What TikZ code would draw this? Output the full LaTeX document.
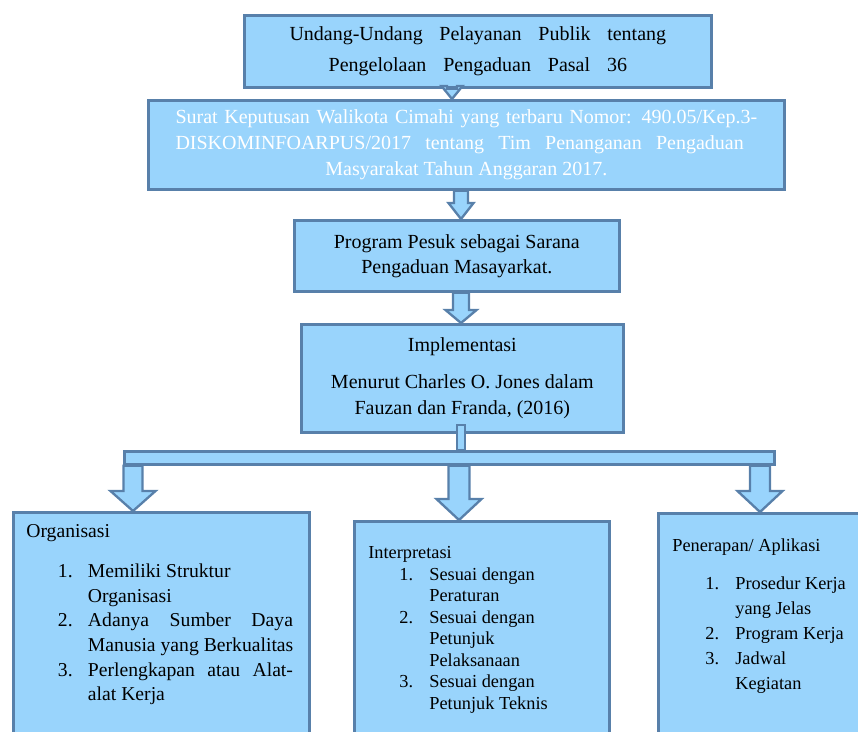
\documentclass[tikz,border=0pt]{standalone}
\usepackage{fontspec}
\setmainfont{Liberation Serif}
\usetikzlibrary{calc}

\definecolor{boxfill}{HTML}{99D4FC}
\definecolor{boxline}{HTML}{5880AA}

% block arrow: start, tip, shaft half width, head half width, head length
\newcommand{\blockarrow}[5]{%
  \draw[arrowbody] ($#1+(-#3,0)$) -- ($#2+(-#3,-#5)$) -- ($#2+(-#4,-#5)$) -- #2
    -- ($#2+(#4,-#5)$) -- ($#2+(#3,-#5)$) -- ($#1+(#3,0)$) -- cycle;}

\begin{document}
\begin{tikzpicture}[x=0.6pt, y=-0.6pt,
  box/.style={draw=boxline, fill=boxfill, line width=1.6pt, inner sep=0pt,
    anchor=north west, align=center},
  arrowbody/.style={draw=boxline, fill=boxfill, line width=1.4pt, line join=miter},
  listtext/.style={anchor=north west, align=left, inner sep=0pt}]
  \useasboundingbox (0,0) rectangle (858,731);
  \clip (0,0) rectangle (858,731);

  \node[box, minimum width=280.2pt, minimum height=43.2pt,
    font=\fontsize{12}{19}\selectfont] (law) at (243,14)
    {\makebox[226pt][s]{Undang-Undang Pelayanan Publik tentang}\\
     \makebox[179pt][s]{Pengelolaan Pengaduan Pasal 36}};
  \node[box, minimum width=381.6pt, minimum height=53.4pt, align=left, text=white,
    font=\fontsize{12}{15.6}\selectfont] (sk) at (147,99)
    {\makebox[349pt][s]{Surat Keputusan Walikota Cimahi yang terbaru Nomor: 490.05/Kep.3-}\\
     \makebox[341pt][s]{DISKOMINFOARPUS/2017 tentang Tim Penanganan Pengaduan}\\
     \makebox[349pt]{Masyarakat Tahun Anggaran 2017.}};
  \node[box, minimum width=195pt, minimum height=42.6pt,
    font=\fontsize{12}{15}\selectfont] (pesuk) at (293,219)
    {Program Pesuk sebagai Sarana\\ Pengaduan Masayarkat.};
  \node[box, minimum width=193.2pt, minimum height=64.8pt,
    font=\fontsize{12}{15.6}\selectfont] (impl) at (300,323)
    {Implementasi\\[6.6pt] Menurut Charles O. Jones dalam\\ Fauzan dan Franda, (2016)};
  \node[box, minimum width=390pt, minimum height=7.8pt] (bar) at (123,450) {};

  \node[box, minimum width=177.6pt, minimum height=150pt] (org) at (12,511) {};
  \node[box, minimum width=153pt, minimum height=150pt] (interp) at (353,520) {};
  \node[box, minimum width=144pt, minimum height=150pt] (apps) at (657,512) {};

  % arrow axes
  \coordinate (xa) at (452,0);
  \coordinate (xb) at (461,0);
  \coordinate (xe) at (133,0);
  \coordinate (xf) at (459,0);
  \coordinate (xg) at (760,0);

  \blockarrow{(law.south -| xa)}{(sk.north -| xa)}{5}{10.5}{13}
  \blockarrow{(sk.south -| xb)}{(pesuk.north -| xb)}{7}{12.5}{16}
  \blockarrow{(pesuk.south -| xb)}{(impl.north -| xb)}{8}{15.5}{13}
  \draw[arrowbody] ($(impl.south -| xb)+(-4,-9)$) rectangle ($(bar.north -| xb)+(4,0)$);
  \blockarrow{(bar.south -| xe)}{(org.north -| xe)}{9.5}{22.5}{20}
  \blockarrow{(bar.south -| xf)}{(interp.north -| xf)}{10.5}{22.5}{21}
  \blockarrow{(bar.south -| xg)}{(apps.north -| xg)}{10}{22.5}{21}

  \node[listtext, font=\fontsize{11.8}{14.8}\selectfont] (orgtext) at (26,524)
    {Organisasi\\[9.2pt]
     \hspace*{19pt}\makebox[18pt][l]{1.}Memiliki Struktur\\
     \hspace*{37pt}Organisasi\\
     \hspace*{19pt}\makebox[18pt][l]{2.}\makebox[123pt][s]{Adanya Sumber Daya}\\
     \hspace*{37pt}Manusia yang Berkualitas\\
     \hspace*{19pt}\makebox[18pt][l]{3.}\makebox[123pt][s]{Perlengkapan atau Alat-}\\
     \hspace*{37pt}alat Kerja};
  \node[listtext, font=\fontsize{11}{12.9}\selectfont] (interptext) at (368,546)
    {Interpretasi\\[0.3pt]
     \hspace*{18.6pt}\makebox[18pt][l]{1.}Sesuai dengan\\
     \hspace*{36.6pt}Peraturan\\
     \hspace*{18.6pt}\makebox[18pt][l]{2.}Sesuai dengan\\
     \hspace*{36.6pt}Petunjuk\\
     \hspace*{36.6pt}Pelaksanaan\\
     \hspace*{18.6pt}\makebox[18pt][l]{3.}Sesuai dengan\\
     \hspace*{36.6pt}Petunjuk Teknis};
  \node[listtext, font=\fontsize{11}{15}\selectfont] (appstext) at (672,538)
    {Penerapan/ Aplikasi\\[7.8pt]
     \hspace*{19.8pt}\makebox[18pt][l]{1.}Prosedur Kerja\\
     \hspace*{37.8pt}yang Jelas\\
     \hspace*{19.8pt}\makebox[18pt][l]{2.}Program Kerja\\
     \hspace*{19.8pt}\makebox[18pt][l]{3.}Jadwal\\
     \hspace*{37.8pt}Kegiatan};
\end{tikzpicture}
\end{document}
